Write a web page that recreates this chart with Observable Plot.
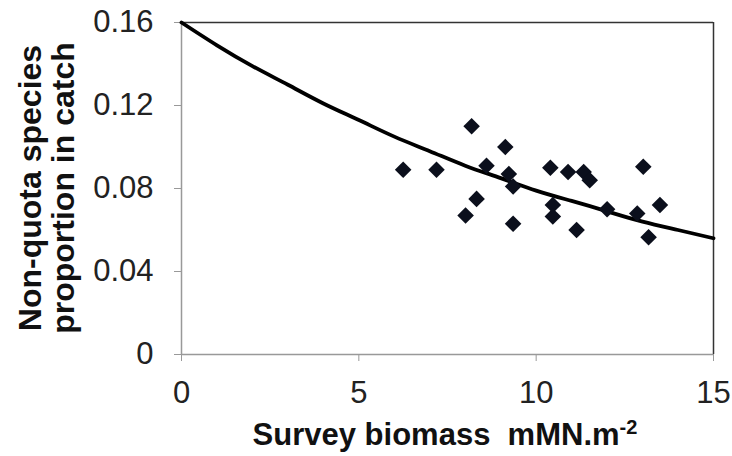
<!DOCTYPE html>
<html>
<head>
<meta charset="utf-8">
<script src="https://cdn.jsdelivr.net/npm/d3@7"></script>
<script src="https://cdn.jsdelivr.net/npm/@observablehq/plot@0.6"></script>
<style>
  html, body { margin: 0; padding: 0; background: #fff; }
  svg { font-family: "Liberation Sans", Arial, sans-serif; }
</style>
</head>
<body>
<div id="chart"></div>
<script>
// Observed points: survey biomass (x) vs non-quota species proportion (y)
const biomass = [6.25, 7.19, 8.18, 9.13, 8.60, 9.23, 9.35, 8.32, 8.01, 9.35, 10.40, 10.47, 10.47, 10.90, 11.34, 11.51, 13.02, 11.14, 12.00, 12.85, 13.49, 13.17];
const proportion = [0.089, 0.089, 0.110, 0.100, 0.091, 0.087, 0.081, 0.075, 0.067, 0.063, 0.090, 0.072, 0.0665, 0.088, 0.088, 0.084, 0.0905, 0.060, 0.070, 0.068, 0.072, 0.0565];

// Fitted curve
const curveX = [0, 1, 2, 3, 4, 5, 6, 7, 8, 9, 10, 11, 12, 13, 14, 15];
const curveY = [0.160, 0.149, 0.139, 0.130, 0.121, 0.113, 0.105, 0.098, 0.091, 0.085, 0.079, 0.074, 0.069, 0.064, 0.060, 0.056];

const xTicks = [0, 5, 10, 15];
const yTicks = [0, 0.04, 0.08, 0.12, 0.16];

const points = biomass.map((b, i) => ({x: b, y: proportion[i]}));
const curve = curveX.map((c, i) => ({x: c, y: curveY[i]}));

const W = 732, H = 456;
const plot = Plot.plot({
  width: W,
  height: H,
  marginLeft: 181,
  marginRight: 19,
  marginTop: 22,
  marginBottom: 102,
  style: {fontFamily: '"Liberation Sans", Arial, sans-serif', background: "#fff", overflow: "visible"},
  x: {domain: [0, 15], label: null},
  y: {domain: [0, 0.16], label: null},
  marks: [
    Plot.ruleY([0.16], {stroke: "#333", strokeWidth: 1.5}),
    Plot.ruleX([15], {stroke: "#333", strokeWidth: 1.5}),
    Plot.ruleY([0], {stroke: "#999", strokeWidth: 1.5}),
    Plot.ruleX([0], {stroke: "#999", strokeWidth: 1.5}),
    Plot.axisY({ticks: yTicks, tickFormat: d => d === 0 ? "0" : d.toFixed(2), tickSize: 7, tickPadding: 21, fontSize: 31, stroke: "#999", color: "#222", label: null}),
    Plot.axisX({ticks: xTicks, tickFormat: d => String(d), tickSize: 7, tickPadding: 19, fontSize: 31, stroke: "#999", color: "#222", label: null}),
    Plot.line(curve, {x: "x", y: "y", curve: "natural", stroke: "#000", strokeWidth: 3.8}),
    Plot.dot(points, {x: "x", y: "y", symbol: "square", rotate: 45, r: 6.6, fill: "#0b0f1c", stroke: "none"})
  ]
});

const svg = d3.select(plot);
// Y-axis title (two lines, bold, rotated)
const yt = svg.append("text")
  .attr("transform", "translate(41,188) rotate(-90)")
  .attr("text-anchor", "middle")
  .attr("font-weight", "bold")
  .attr("font-size", 32)
  .attr("fill", "#111");
yt.append("tspan").attr("x", 0).attr("dy", 0).text("Non-quota species");
yt.append("tspan").attr("x", 0).attr("dy", 33).text("proportion in catch");

// X-axis title with superscript
const xt = svg.append("text")
  .attr("x", 445)
  .attr("y", 445)
  .attr("text-anchor", "middle")
  .attr("font-weight", "bold")
  .attr("font-size", 31)
  .attr("fill", "#111");
xt.append("tspan").text("Survey biomass  mMN.m");
xt.append("tspan").attr("font-size", 20).attr("dy", -11).text("-2");

document.getElementById("chart").appendChild(plot);
</script>
</body>
</html>
